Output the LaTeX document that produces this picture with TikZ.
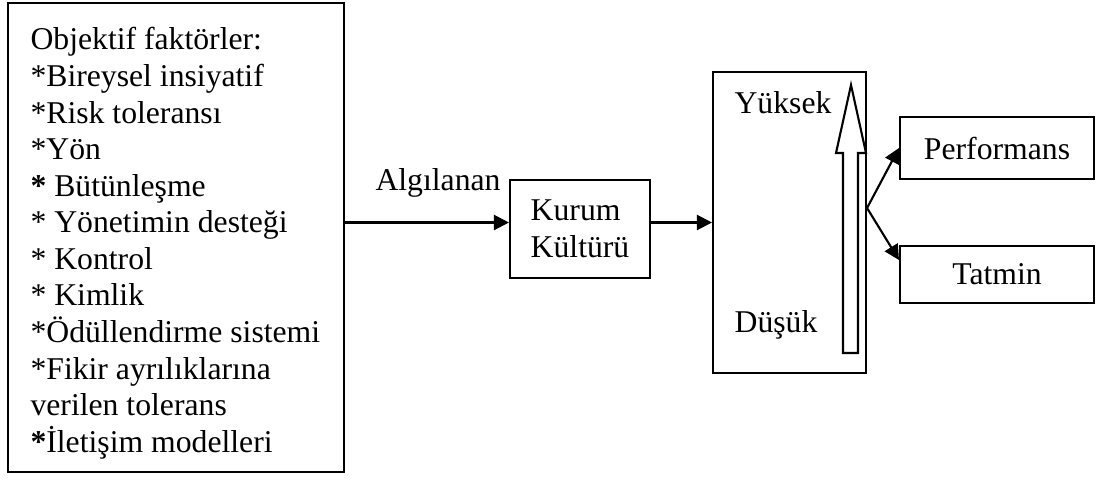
\documentclass[tikz,border=0pt]{standalone}
\usepackage{fontspec}
\setmainfont{Liberation Serif}
\usetikzlibrary{arrows.meta, positioning, calc}

\tikzset{
  box/.style={draw, line width=0.8pt, inner sep=0pt},
  link/.style={-{Triangle[length=0.2cm, width=0.2cm]}, line width=0.8pt},
}

\begin{document}
\begin{tikzpicture}[x=0.0133cm, y=0.0133cm, font=\fontsize{12}{13.85}\selectfont]
    \useasboundingbox (0,0) rectangle (1099,479);

    % kutular
    \node[box, minimum width=4.469cm, minimum height=6.238cm] (objbox) at (176,241.5) {};
    \node[anchor=north west, align=left, inner sep=0pt] (objtext) at (30,452)
        {Objektif faktörler:\\
         *Bireysel insiyatif\\
         *Risk toleransı\\
         *Yön\\
         \textbf{*} Bütünleşme\\
         * Yönetimin desteği\\
         * Kontrol\\
         * Kimlik\\
         *Ödüllendirme sistemi\\
         *Fikir ayrılıklarına\\
         verilen tolerans\\
         \textbf{*}İletişim modelleri};

    \node[box, minimum width=1.862cm, minimum height=1.303cm, align=left] (kurum) at (580,250) {Kurum\\Kültürü};
    \node[box, minimum width=2.035cm, minimum height=4.003cm] (level) at (789.5,256.5) {};
    \node[box, minimum width=2.580cm, minimum height=0.825cm] (perf) at (997,331) {Performans};
    \node[box, minimum width=2.580cm, minimum height=0.758cm] (tatmin) at (997,204.5) {Tatmin};

    \node (algi) at (438,296) {Algılanan};
    \node (high) at (783,376) {Yüksek};
    \node (low) at (776,154) {Düşük};

    % ici bos ok
    \draw[line width=0.8pt] (843,126) -- (858,126) -- (858,326) -- (866,326)
        -- (851,394) -- (836,326) -- (843,326) -- cycle;

    % oklar
    \draw[link] (objbox.east |- level.west) -- (kurum.west |- level.west);
    \draw[link] (kurum.east |- level.west) -- (level.west);
    \coordinate (split) at ($(level.east)+(0,14.5)$);
    \draw[link] (split) -- (perf.west);
    \draw[link] (split) -- ($(tatmin.west)+(0,14.5)$);
\end{tikzpicture}
\end{document}
